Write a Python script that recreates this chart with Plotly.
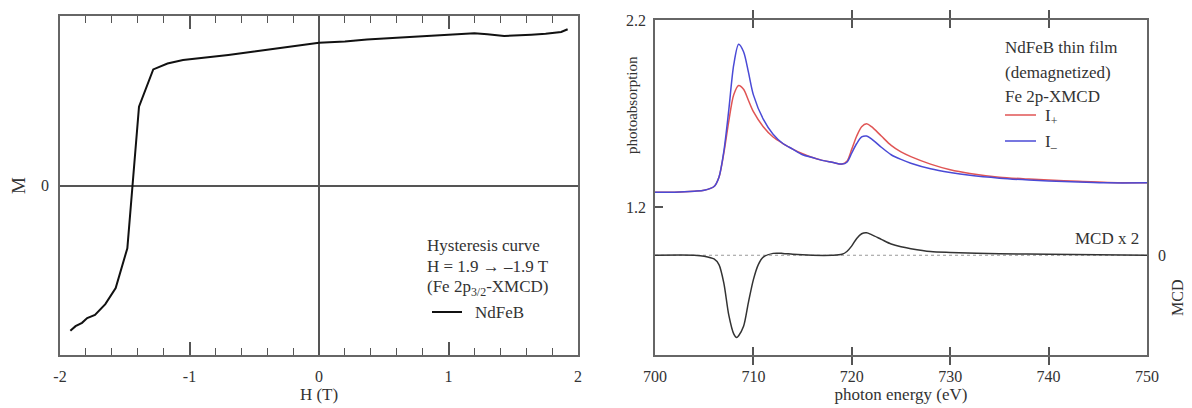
import plotly.graph_objects as go

W, H_PX = 1192, 408
OFF = 8  # page body margin in the browser

# ---------------- data: hysteresis (left panel) ----------------
field_T = [-1.92, -1.88, -1.83, -1.79, -1.73, -1.65, -1.57, -1.48, -1.44, -1.39,
           -1.28, -1.17, -1.05, -0.92, -0.7, -0.5, -0.3, -0.1, 0.0, 0.2, 0.37,
           0.6, 0.89, 1.0, 1.2, 1.3, 1.43, 1.64, 1.75, 1.87, 1.92]
magnetization = [-0.857, -0.83, -0.81, -0.782, -0.764, -0.70, -0.605, -0.37, 0.0, 0.465,
                 0.685, 0.72, 0.74, 0.75, 0.77, 0.79, 0.81, 0.83, 0.842, 0.85, 0.862,
                 0.872, 0.884, 0.89, 0.898, 0.892, 0.882, 0.89, 0.895, 0.906, 0.922]

# ---------------- data: XAS / XMCD (right panel) ----------------
energy_eV = [700, 702, 704, 705, 706, 706.5, 707, 707.5, 708, 708.5, 709, 709.5, 710,
             711, 712, 713, 714, 715, 716, 717, 718, 719, 719.5, 720, 720.5, 721,
             721.5, 722, 723, 724, 725, 726, 728, 730, 732, 735, 738, 740, 743, 746, 750]
i_plus = [1.28, 1.28, 1.285, 1.29, 1.31, 1.36, 1.49, 1.66, 1.80, 1.85, 1.83, 1.77, 1.71,
          1.63, 1.575, 1.54, 1.51, 1.485, 1.465, 1.45, 1.44, 1.43, 1.445, 1.51, 1.58, 1.63,
          1.645, 1.63, 1.58, 1.53, 1.495, 1.47, 1.43, 1.40, 1.38, 1.36, 1.35, 1.345, 1.338, 1.332, 1.33]
i_minus = [1.28, 1.28, 1.285, 1.29, 1.31, 1.36, 1.50, 1.72, 1.96, 2.07, 2.03, 1.92, 1.80,
           1.67, 1.59, 1.54, 1.51, 1.48, 1.465, 1.45, 1.44, 1.43, 1.44, 1.49, 1.54, 1.575,
           1.58, 1.565, 1.52, 1.48, 1.455, 1.435, 1.405, 1.385, 1.37, 1.355, 1.345, 1.34, 1.335, 1.33, 1.33]
mcd_energy = [700, 704, 705, 706, 706.5, 707, 707.5, 708, 708.3, 708.5, 709, 709.5, 710,
              710.5, 711, 712, 713, 714, 716, 718, 719, 719.5, 720, 720.5, 721, 721.5,
              722, 723, 724, 725, 726, 728, 730, 735, 740, 750]
mcd_x2 = [0.0, 0.0, -0.005, -0.02, -0.05, -0.15, -0.32, -0.42, -0.44, -0.43, -0.38, -0.25, -0.13,
          -0.05, -0.01, 0.01, 0.01, 0.005, 0.0, 0.0, 0.005, 0.02, 0.05, 0.09, 0.115, 0.12,
          0.11, 0.085, 0.06, 0.045, 0.035, 0.02, 0.015, 0.008, 0.005, 0.0]

FONT = "Liberation Serif"
TXT = "#333333"
AX = "#555555"


def px(x, y):
    return (x - OFF) / W, 1 - (y - OFF) / H_PX


def pxx(x):
    return (x - OFF) / W


def pxy(y):
    return 1 - (y - OFF) / H_PX


fig = go.Figure()

fig.add_trace(go.Scatter(x=field_T, y=magnetization, mode="lines",
                         line=dict(color="#111111", width=2), xaxis="x", yaxis="y",
                         showlegend=False))

fig.add_trace(go.Scatter(x=energy_eV, y=i_plus, mode="lines",
                         line=dict(color="#e05555", width=1.5, shape="spline", smoothing=0.8),
                         xaxis="x2", yaxis="y2", showlegend=False))
fig.add_trace(go.Scatter(x=energy_eV, y=i_minus, mode="lines",
                         line=dict(color="#4a4ad6", width=1.5, shape="spline", smoothing=0.8),
                         xaxis="x2", yaxis="y2", showlegend=False))
fig.add_trace(go.Scatter(x=[700, 750], y=[0, 0], mode="lines",
                         line=dict(color="#999999", width=1, dash="dot"), xaxis="x2", yaxis="y3",
                         showlegend=False))
fig.add_trace(go.Scatter(x=mcd_energy, y=mcd_x2, mode="lines",
                         line=dict(color="#333333", width=1.5, shape="spline", smoothing=0.8),
                         xaxis="x2", yaxis="y3", showlegend=False))

left_dom_x = [pxx(60), pxx(578)]
right_dom_x = [pxx(655), pxx(1147)]
left_dom_y = [pxy(355), pxy(16)]
right_dom_y = [pxy(355), pxy(20)]

tickfont = dict(family=FONT, size=16, color=TXT)

fig.update_layout(
    width=W, height=H_PX,
    margin=dict(l=0, r=0, t=0, b=0, autoexpand=False),
    paper_bgcolor="white", plot_bgcolor="white",
    font=dict(family=FONT, color=TXT),
    xaxis=dict(domain=left_dom_x, range=[-2, 2], anchor="y", automargin=False,
               showline=True, linecolor="#666666", linewidth=1.5, mirror="allticks",
               ticks="inside", ticklen=13, tickcolor=AX, tickwidth=1.5, layer="above traces",
               tickvals=[-2, -1, 0, 1, 2], ticktext=["-2", "-1", "0", "1", "2"],
               minor=dict(dtick=0.2, ticks="inside", ticklen=7, tickcolor=AX, tickwidth=1.2),
               showgrid=False, zeroline=True, zerolinecolor="#555555", zerolinewidth=1.5,
               tickfont=tickfont, ticklabelstandoff=6,
               title=dict(text="H (T)", font=dict(family=FONT, size=17, color=TXT), standoff=2)),
    yaxis=dict(domain=left_dom_y, range=[-1, 1], anchor="x", automargin=False,
               showline=True, linecolor="#666666", linewidth=1.5, mirror=True,
               tickvals=[0], ticktext=["0"], showgrid=False,
               zeroline=True, zerolinecolor="#555555", zerolinewidth=1.5,
               tickfont=tickfont, ticklabelstandoff=6),
    xaxis2=dict(domain=right_dom_x, range=[700, 750], anchor="y2", automargin=False,
                showline=True, linecolor="#666666", linewidth=1.5, mirror="allticks",
                ticks="inside", ticklen=8, tickcolor=AX, tickwidth=1.5, layer="above traces",
                tickvals=[700, 710, 720, 730, 740, 750], showgrid=False, zeroline=False,
                tickfont=tickfont, ticklabelstandoff=6,
                title=dict(text="photon energy (eV)", font=dict(family=FONT, size=17, color=TXT), standoff=2)),
    yaxis2=dict(domain=right_dom_y, range=[0.41, 2.2], anchor="x2", automargin=False,
                showline=True, linecolor="#666666", linewidth=1.5, mirror=True,
                ticks="inside", ticklen=8, tickcolor=AX, tickwidth=1.5,
                tickvals=[1.2, 2.2], ticktext=["1.2", "2.2"], showgrid=False, zeroline=False,
                tickfont=tickfont, ticklabelstandoff=4),
    yaxis3=dict(domain=right_dom_y, range=[0.41 - 0.943, 2.2 - 0.943], anchor="x2",
                overlaying="y2", side="right", showline=False, automargin=False,
                tickvals=[0], ticktext=["0"], showgrid=False, zeroline=False,
                tickfont=tickfont, ticklabelstandoff=10),
)

ann = []


def add_text(x, y, text, size=17, xanchor="left", textangle=0):
    ax, ay = px(x, y)
    ann.append(dict(x=ax, y=ay, xref="paper", yref="paper", text=text, showarrow=False,
                    xanchor=xanchor, yanchor="middle", textangle=textangle,
                    font=dict(family=FONT, size=size, color=TXT)))


# left panel texts
add_text(18, 186, "M", size=19, xanchor="center", textangle=-90)
add_text(425, 245, "Hysteresis curve")
add_text(425, 266, "H = 1.9 \u2192 \u20131.9 T")
add_text(425, 288, "(Fe 2p<sub>3/2</sub>-XMCD)")
add_text(473, 312, "NdFeB")

# right panel texts
add_text(1003, 48, "NdFeB thin film")
add_text(1003, 72, "(demagnetized)")
add_text(1003, 96, "Fe 2p-XMCD")
add_text(1043, 117, "I<sub>+</sub>")
add_text(1043, 143, "I<sub>\u2013</sub>")
add_text(1141, 238, "MCD x 2", xanchor="right")
add_text(632, 105, "photoabsorption", size=15, xanchor="center", textangle=-90)
add_text(1177, 298, "MCD", size=16, xanchor="center", textangle=-90)

fig.update_layout(annotations=ann)

# legend line samples (paper shapes)
shapes = []
for (x0, x1, y, c) in [(432, 462, 312, "#111111"), (1005, 1036, 115, "#e05555"), (1005, 1036, 141, "#4a4ad6")]:
    a0, b0 = px(x0, y)
    a1, _ = px(x1, y)
    shapes.append(dict(type="line", xref="paper", yref="paper", x0=a0, x1=a1, y0=b0, y1=b0,
                       line=dict(color=c, width=2 if c == "#111111" else 1.5)))
fig.update_layout(shapes=shapes)

fig.write_html("out.html")
